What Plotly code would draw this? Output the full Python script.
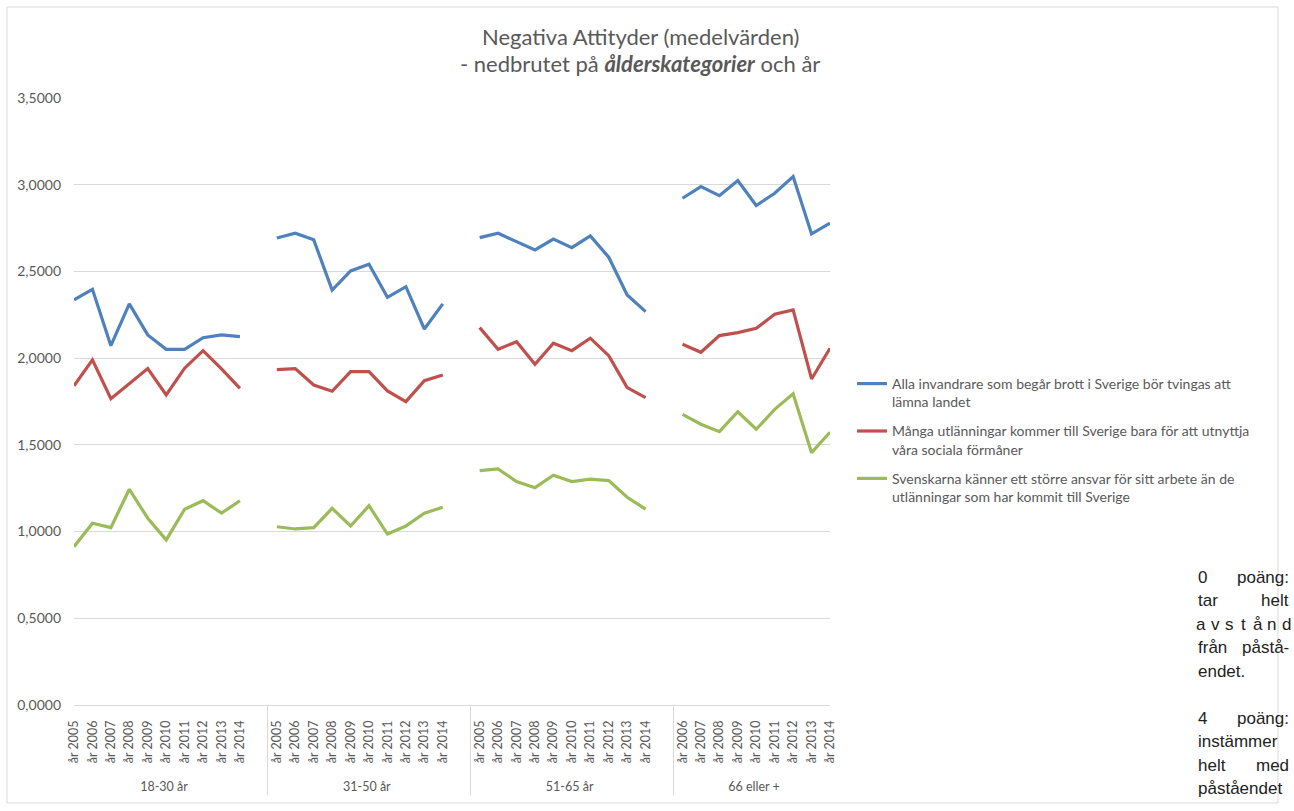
import plotly.graph_objects as go

# ---------------- data ----------------
age_groups = ["18-30 år", "31-50 år", "51-65 år", "66 eller +"]
years_by_group = [
    ["år 2005", "år 2006", "år 2007", "år 2008", "år 2009", "år 2010", "år 2011", "år 2012", "år 2013", "år 2014"],
    ["år 2005", "år 2006", "år 2007", "år 2008", "år 2009", "år 2010", "år 2011", "år 2012", "år 2013", "år 2014"],
    ["år 2005", "år 2006", "år 2007", "år 2008", "år 2009", "år 2010", "år 2011", "år 2012", "år 2013", "år 2014"],
    ["år 2006", "år 2007", "år 2008", "år 2009", "år 2010", "år 2011", "år 2012", "år 2013", "år 2014"],
]
# groups followed by an empty (unlabelled) category in the source sheet
blank_after_group = [True, True, True, False]

series_names = [
    "Alla invandrare som begår brott i Sverige bör tvingas att<br>lämna landet",
    "Många utlänningar kommer till Sverige bara för att utnyttja<br>våra sociala förmåner",
    "Svenskarna känner ett större ansvar för sitt arbete än de<br>utlänningar som har kommit till Sverige",
]
series_colors = ["#4F81BD", "#C0504D", "#9BBB59"]

blue_values = [
    [2.336, 2.397, 2.072, 2.313, 2.134, 2.051, 2.051, 2.118, 2.134, 2.124],
    [2.693, 2.720, 2.682, 2.393, 2.503, 2.541, 2.351, 2.412, 2.168, 2.313],
    [2.695, 2.720, 2.672, 2.624, 2.687, 2.637, 2.705, 2.582, 2.364, 2.268],
    [2.922, 2.989, 2.937, 3.024, 2.880, 2.951, 3.047, 2.716, 2.778],
]
red_values = [
    [1.841, 1.990, 1.766, 1.855, 1.940, 1.788, 1.942, 2.043, 1.938, 1.826],
    [1.934, 1.940, 1.845, 1.809, 1.922, 1.922, 1.811, 1.749, 1.870, 1.903],
    [2.176, 2.051, 2.095, 1.965, 2.086, 2.043, 2.115, 2.014, 1.830, 1.772],
    [2.080, 2.034, 2.130, 2.147, 2.172, 2.253, 2.278, 1.880, 2.057],
]
green_values = [
    [0.913, 1.048, 1.023, 1.244, 1.077, 0.952, 1.129, 1.178, 1.106, 1.178],
    [1.028, 1.015, 1.023, 1.134, 1.032, 1.149, 0.986, 1.032, 1.106, 1.140],
    [1.351, 1.361, 1.288, 1.253, 1.325, 1.288, 1.302, 1.294, 1.198, 1.129],
    [1.676, 1.619, 1.576, 1.691, 1.590, 1.705, 1.794, 1.455, 1.573],
]

# ---------------- build multicategory x ----------------
NB = "\u00a0"
outer, inner = [], []
for g, yrs, blank in zip(age_groups, years_by_group, blank_after_group):
    for y in yrs:
        outer.append(g)
        inner.append(NB + y + NB * 3)  # padding: gap from axis line and from group labels
    if blank:
        outer.append(g)
        inner.append(" ")


def flatten(vals):
    out = []
    for grp, blank in zip(vals, blank_after_group):
        out.extend(grp)
        if blank:
            out.append(None)
    return out


W, H = 1294, 811
L, R, T, B = 74, 830, 98, 705  # plot area in pixels


def px_x(px):
    return (px - L) / (R - L)


def px_y(py):
    return (B - py) / (B - T)


FONT = "Lato, 'Open Sans', sans-serif"
GRAY = "#595959"

fig = go.Figure()
for name, color, vals in zip(series_names, series_colors, [blue_values, red_values, green_values]):
    fig.add_trace(go.Scatter(
        x=[outer, inner], y=flatten(vals), mode="lines", name=name,
        line=dict(color=color, width=3.2), connectgaps=False,
        legendgroup=name,
    ))

annotations = [
    dict(text="Negativa Attityder (medelvärden)", x=px_x(640), y=px_y(37)),
    dict(text="- nedbrutet på <b><i>ålderskategorier</i></b> och år", x=px_x(640), y=px_y(63)),
]
for a in annotations:
    a.update(xref="paper", yref="paper", showarrow=False, xanchor="center", yanchor="middle",
             font=dict(family=FONT, size=22, color=GRAY))

# side text from the surrounding document (justified column)
SIDE_FONT = dict(family="'Liberation Sans', Arial, sans-serif", size=17, color="#222222")
xl, xr = 1196, 1291
side_lines = [
    (577, "0", "poäng:"),
    (600.5, "tar", "helt"),
    (624, "avstånd", None),
    (647.5, "från", "påstå-"),
    (671, "endet.", ""),
    (718, "4", "poäng:"),
    (741.5, "instämmer", ""),
    (765, "helt", "med"),
    (788.5, "påståendet", ""),
]
for py, left, right in side_lines:
    if right is None:
        n = len(left)
        for i, ch in enumerate(left):
            cx = xl + 5 + i * (xr - xl - 10) / (n - 1)
            annotations.append(dict(text=ch, x=px_x(cx), y=px_y(py), xanchor="center"))
    else:
        annotations.append(dict(text=left, x=px_x(xl), y=px_y(py), xanchor="left"))
        if right:
            annotations.append(dict(text=right, x=px_x(xr), y=px_y(py), xanchor="right"))
for a in annotations[2:]:
    a.update(xref="paper", yref="paper", showarrow=False, yanchor="middle", font=SIDE_FONT)

shapes = [dict(type="rect", xref="paper", yref="paper",
               x0=px_x(7), x1=px_x(1278), y0=px_y(803), y1=px_y(7),
               line=dict(color="#d9d9d9", width=1), fillcolor="rgba(0,0,0,0)", layer="below")]

fig.update_layout(
    width=W, height=H,
    margin=dict(l=L, r=W - R, t=T, b=H - B, autoexpand=False),
    paper_bgcolor="white", plot_bgcolor="white",
    separators=",.",
    font=dict(family=FONT, color=GRAY),
    showlegend=True,
    legend=dict(x=px_x(852), xanchor="left", y=px_y(368), yanchor="top",
                font=dict(family=FONT, size=14, color=GRAY), valign="top",
                tracegroupgap=8, bgcolor="rgba(0,0,0,0)"),
    annotations=annotations,
    shapes=shapes,
)
fig.update_yaxes(range=[0, 3.5], dtick=0.5, tickformat=".4f", showgrid=True, gridcolor="#d9d9d9",
                 gridwidth=1, zeroline=False, showline=False, ticks="",
                 tickfont=dict(family=FONT, size=14, color=GRAY), ticklabelstandoff=12)
fig.update_xaxes(type="multicategory", showgrid=False, showline=True, linecolor="#d9d9d9",
                 ticks="", tickangle=-90, tickfont=dict(family=FONT, size=12.5, color=GRAY),
                 showdividers=True, dividercolor="#d9d9d9", dividerwidth=1)

fig.write_html(
    "out.html",
    config={"displayModeBar": False},
    post_script="document.body.style.margin='0';document.documentElement.style.overflow='hidden';",
)
